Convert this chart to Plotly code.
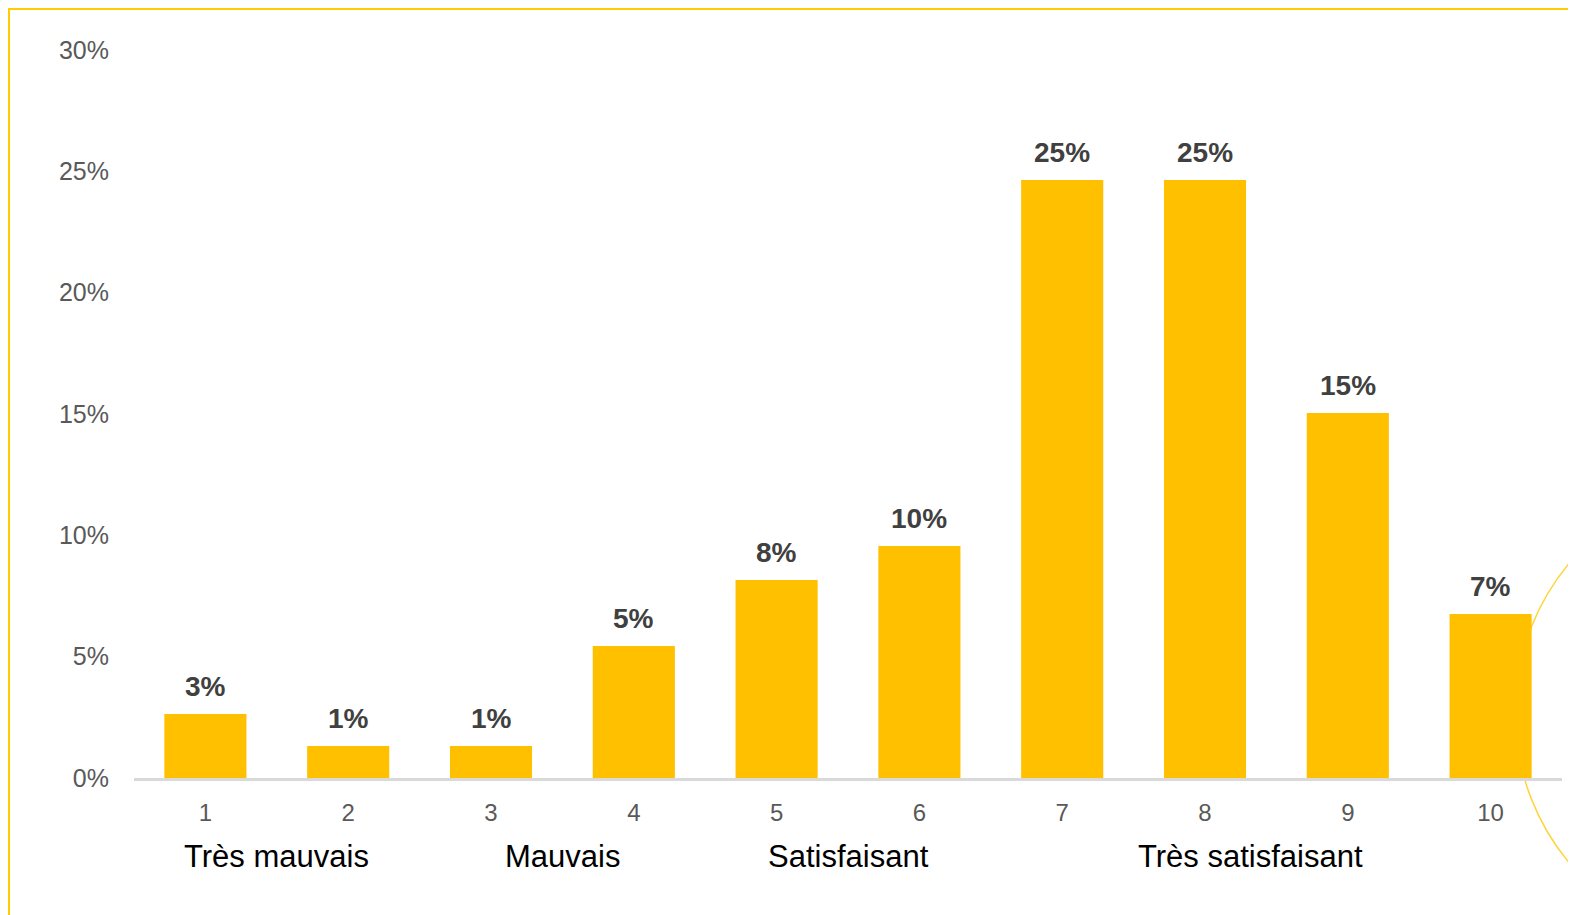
import plotly.graph_objects as go

categories = ["1", "2", "3", "4", "5", "6", "7", "8", "9", "10"]
values = [0.0264, 0.0132, 0.0132, 0.0544, 0.0816, 0.0956, 0.2464, 0.2464, 0.1504, 0.0676]
value_labels = ["3%", "1%", "1%", "5%", "8%", "10%", "25%", "25%", "15%", "7%"]
group_labels = ["Très mauvais", "Mauvais", "Satisfaisant", "Très satisfaisant"]
group_positions = [0.5, 2.5, 4.5, 7.32]
y_ticks = [0, 0.05, 0.10, 0.15, 0.20, 0.25, 0.30]
y_tick_labels = ["0%", "5%", "10%", "15%", "20%", "25%", "30%"]

OFF = 8  # page body margin
W, H = 1568, 907
L, R, T, B = 126, 14, 42, 137
PW = W - L - R
PH = H - T - B


def px(x):
    return (x - OFF - L) / PW


def py(y):
    return (H - B - (y - OFF)) / PH


fig = go.Figure()
fig.add_trace(go.Bar(
    x=categories,
    y=values,
    marker=dict(color="#FFC000", line=dict(width=0)),
    hoverinfo="skip",
))

annotations = []
for i, (v, t) in enumerate(zip(values, value_labels)):
    annotations.append(dict(
        x=i, y=v, xref="x", yref="y", text="<b>%s</b>" % t, showarrow=False,
        yanchor="bottom", yshift=10,
        font=dict(family="Liberation Sans, Arial", size=28, color="#404040"),
    ))
for g, p in zip(group_labels, group_positions):
    annotations.append(dict(
        x=p, y=py(856), xref="x", yref="paper", text=g, showarrow=False,
        yanchor="middle", xanchor="center",
        font=dict(family="Liberation Sans, Arial", size=31, color="#000000"),
    ))

shapes = [
    dict(type="line", xref="paper", yref="paper", x0=px(9), y0=py(H + 20), x1=px(9), y1=py(9),
         line=dict(color="#FFCC00", width=2)),
    dict(type="line", xref="paper", yref="paper", x0=px(8), y0=py(9), x1=px(W + 20), y1=py(9),
         line=dict(color="#FFCC00", width=2)),
    dict(type="circle", xref="paper", yref="paper", x0=px(1515), y0=py(479), x1=px(1983), y1=py(947),
         line=dict(color="#FFD43B", width=1.5), layer="below"),
]

fig.update_layout(
    width=W, height=H,
    margin=dict(l=L, r=R, t=T, b=B, pad=0),
    paper_bgcolor="white", plot_bgcolor="rgba(0,0,0,0)",
    showlegend=False,
    bargap=0.425,
    font=dict(family="Liberation Sans, Arial", color="#595959"),
    xaxis=dict(
        type="category",
        showgrid=False, zeroline=False,
        showline=True, linecolor="#D9D9D9", linewidth=2.5, layer="above traces",
        ticks="", tickfont=dict(size=24, color="#595959"),
        ticklabelstandoff=11,
    ),
    yaxis=dict(
        range=[0, 0.30],
        tickvals=y_ticks, ticktext=y_tick_labels,
        showgrid=False, zeroline=False, showline=False,
        ticks="", tickfont=dict(size=25, color="#595959"),
        ticklabelstandoff=24,
    ),
    annotations=annotations,
    shapes=shapes,
)

fig.write_html("out.html")
